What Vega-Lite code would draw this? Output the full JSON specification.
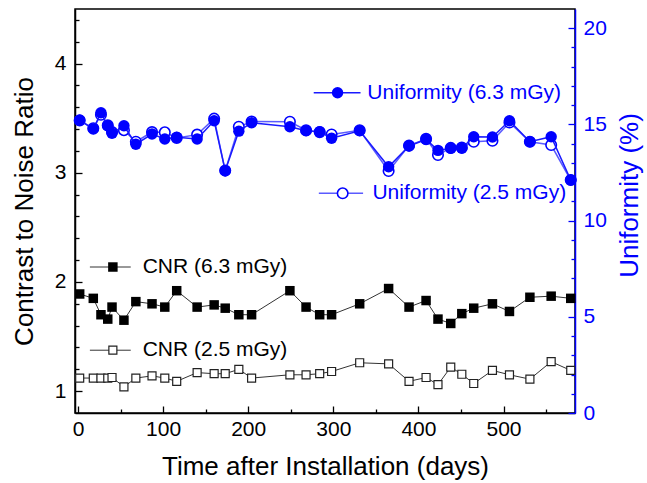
{
  "$schema": "https://vega.github.io/schema/vega-lite/v6.json",
  "width": 500,
  "height": 404,
  "autosize": {"type": "none"},
  "padding": {"left": 75, "top": 9, "right": 72, "bottom": 70},
  "background": "white",
  "config": {
    "font": "Liberation Sans",
    "view": {"stroke": "#000", "strokeWidth": 1.5},
    "axis": {
      "grid": false,
      "labelFont": "Liberation Sans",
      "titleFont": "Liberation Sans",
      "labelFontSize": 21,
      "titleFontSize": 26,
      "titleFontWeight": "normal",
      "labelColor": "#000",
      "titleColor": "#000",
      "domainColor": "#000",
      "tickColor": "#000",
      "domainWidth": 1.5,
      "tickWidth": 1.3,
      "labelOverlap": false
    }
  },
  "datasets": {
    "meas": [
      {"day": 2, "cnr_63": 1.89, "cnr_25": 1.12, "unif_63": 15.23, "unif_25": 15.2},
      {"day": 18, "cnr_63": 1.85, "cnr_25": 1.12, "unif_63": 14.76, "unif_25": 14.8},
      {"day": 27, "cnr_63": 1.70, "cnr_25": 1.12, "unif_63": 15.61, "unif_25": 15.5},
      {"day": 35, "cnr_63": 1.66, "cnr_25": 1.12, "unif_63": 14.93, "unif_25": 14.95},
      {"day": 40, "cnr_63": 1.77, "cnr_25": 1.125, "unif_63": 14.54, "unif_25": 14.6},
      {"day": 54, "cnr_63": 1.65, "cnr_25": 1.04, "unif_63": 14.93, "unif_25": 14.7},
      {"day": 68, "cnr_63": 1.82, "cnr_25": 1.12, "unif_63": 13.97, "unif_25": 14.1},
      {"day": 87, "cnr_63": 1.80, "cnr_25": 1.14, "unif_63": 14.50, "unif_25": 14.6},
      {"day": 102, "cnr_63": 1.77, "cnr_25": 1.12, "unif_63": 14.24, "unif_25": 14.59},
      {"day": 116, "cnr_63": 1.92, "cnr_25": 1.09, "unif_63": 14.33, "unif_25": 14.3},
      {"day": 140, "cnr_63": 1.77, "cnr_25": 1.17, "unif_63": 14.24, "unif_25": 14.47},
      {"day": 160, "cnr_63": 1.79, "cnr_25": 1.16, "unif_63": 15.19, "unif_25": 15.3},
      {"day": 173, "cnr_63": 1.76, "cnr_25": 1.16, "unif_63": 12.59, "unif_25": 12.6},
      {"day": 189, "cnr_63": 1.70, "cnr_25": 1.20, "unif_63": 14.65, "unif_25": 14.88},
      {"day": 204, "cnr_63": 1.70, "cnr_25": 1.12, "unif_63": 15.09, "unif_25": 15.15},
      {"day": 249, "cnr_63": 1.92, "cnr_25": 1.15, "unif_63": 14.88, "unif_25": 15.14},
      {"day": 268, "cnr_63": 1.77, "cnr_25": 1.15, "unif_63": 14.67, "unif_25": 14.7},
      {"day": 284, "cnr_63": 1.70, "cnr_25": 1.16, "unif_63": 14.62, "unif_25": 14.6},
      {"day": 298, "cnr_63": 1.70, "cnr_25": 1.18, "unif_63": 14.28, "unif_25": 14.48},
      {"day": 331, "cnr_63": 1.80, "cnr_25": 1.26, "unif_63": 14.67, "unif_25": 14.7},
      {"day": 365, "cnr_63": 1.94, "cnr_25": 1.25, "unif_63": 12.80, "unif_25": 12.58},
      {"day": 389, "cnr_63": 1.77, "cnr_25": 1.09, "unif_63": 13.88, "unif_25": 13.9},
      {"day": 409, "cnr_63": 1.83, "cnr_25": 1.125, "unif_63": 14.22, "unif_25": 14.25},
      {"day": 423, "cnr_63": 1.66, "cnr_25": 1.06, "unif_63": 13.65, "unif_25": 13.41},
      {"day": 438, "cnr_63": 1.62, "cnr_25": 1.22, "unif_63": 13.76, "unif_25": 13.78},
      {"day": 451, "cnr_63": 1.71, "cnr_25": 1.155, "unif_63": 13.76, "unif_25": 13.8},
      {"day": 465, "cnr_63": 1.76, "cnr_25": 1.07, "unif_63": 14.36, "unif_25": 14.10},
      {"day": 487, "cnr_63": 1.80, "cnr_25": 1.19, "unif_63": 14.35, "unif_25": 14.15},
      {"day": 507, "cnr_63": 1.73, "cnr_25": 1.15, "unif_63": 15.19, "unif_25": 15.1},
      {"day": 531, "cnr_63": 1.86, "cnr_25": 1.11, "unif_63": 14.10, "unif_25": 14.10},
      {"day": 556, "cnr_63": 1.87, "cnr_25": 1.27, "unif_63": 14.36, "unif_25": 13.93},
      {"day": 579, "cnr_63": 1.85, "cnr_25": 1.19, "unif_63": 12.11, "unif_25": 12.11}
    ]
  },
  "layer": [
    {
      "layer": [
        {
          "data": {"name": "meas"},
          "mark": {"type": "line", "color": "#333", "strokeWidth": 1},
          "encoding": {
            "x": {
              "field": "day", "type": "quantitative",
              "scale": {"domain": [-3.5, 584], "nice": false, "zero": false},
              "axis": {
                "title": "Time after Installation (days)",
                "values": [0, 50, 100, 150, 200, 250, 300, 350, 400, 450, 500, 550],
                "tickCount": 100,
                "labelExpr": "datum.value % 100 === 0 ? format(datum.value, 'd') : ''",
                "tickSize": {"condition": {"test": "datum.value % 100 === 0", "value": -7}, "value": -4},
                "labelPadding": 12,
                "titlePadding": 11
              }
            },
            "y": {
              "field": "cnr_25", "type": "quantitative",
              "scale": {"domain": [0.8, 4.5], "nice": false, "zero": false},
              "axis": {
                "orient": "left",
                "title": "Contrast to Noise Ratio",
                "values": [1, 1.2, 1.4, 1.6, 1.8, 2, 2.2, 2.4, 2.6, 2.8, 3, 3.2, 3.4, 3.6, 3.8, 4, 4.2, 4.4],
                "tickCount": 100,
                "labelExpr": "abs(datum.value - round(datum.value)) < 0.01 ? format(datum.value, 'd') : ''",
                "tickSize": {"condition": {"test": "abs(datum.value - round(datum.value)) < 0.01", "value": -7}, "value": -4},
                "labelPadding": 16,
                "titlePadding": 17
              }
            }
          }
        },
        {
          "data": {"name": "meas"},
          "mark": {"type": "point", "shape": "square", "size": 64, "fill": "white", "stroke": "#222", "strokeWidth": 1.2, "opacity": 1},
          "encoding": {
            "x": {"field": "day", "type": "quantitative"},
            "y": {"field": "cnr_25", "type": "quantitative"}
          }
        },
        {
          "data": {"name": "meas"},
          "mark": {"type": "line", "color": "#333", "strokeWidth": 1},
          "encoding": {
            "x": {"field": "day", "type": "quantitative"},
            "y": {"field": "cnr_63", "type": "quantitative"}
          }
        },
        {
          "data": {"name": "meas"},
          "mark": {"type": "point", "shape": "square", "size": 90, "filled": true, "color": "#000", "opacity": 1},
          "encoding": {
            "x": {"field": "day", "type": "quantitative"},
            "y": {"field": "cnr_63", "type": "quantitative"}
          }
        },
        {
          "data": {"values": [{"label": "CNR (6.3 mGy)"}]},
          "layer": [
            {"mark": {"type": "rule", "color": "#333", "strokeWidth": 1}, "encoding": {"x": {"datum": 14}, "x2": {"datum": 62}, "y": {"datum": 2.137}}},
            {"mark": {"type": "point", "shape": "square", "size": 90, "filled": true, "color": "#000", "opacity": 1}, "encoding": {"x": {"datum": 41}, "y": {"datum": 2.137}}},
            {"mark": {"type": "text", "align": "left", "baseline": "middle", "fontSize": 21, "color": "#000", "font": "Liberation Sans"}, "encoding": {"x": {"datum": 76}, "y": {"datum": 2.137}, "text": {"field": "label"}}}
          ]
        },
        {
          "data": {"values": [{"label": "CNR (2.5 mGy)"}]},
          "layer": [
            {"mark": {"type": "rule", "color": "#333", "strokeWidth": 1}, "encoding": {"x": {"datum": 14}, "x2": {"datum": 62}, "y": {"datum": 1.375}}},
            {"mark": {"type": "point", "shape": "square", "size": 64, "fill": "white", "stroke": "#222", "strokeWidth": 1.2, "opacity": 1}, "encoding": {"x": {"datum": 41}, "y": {"datum": 1.375}}},
            {"mark": {"type": "text", "align": "left", "baseline": "middle", "fontSize": 21, "color": "#000", "font": "Liberation Sans"}, "encoding": {"x": {"datum": 76}, "y": {"datum": 1.375}, "text": {"field": "label"}}}
          ]
        }
      ]
    },
    {
      "layer": [
        {
          "data": {"name": "meas"},
          "mark": {"type": "line", "color": "#5a5aff", "strokeWidth": 1.5},
          "encoding": {
            "x": {"field": "day", "type": "quantitative"},
            "y": {
              "field": "unif_25", "type": "quantitative",
              "scale": {"domain": [0, 21], "nice": false, "zero": false},
              "axis": {
                "orient": "right",
                "title": "Uniformity (%)",
                "titleAngle": 270,
                "titleFontSize": 26,
                "titleY": 186,
                "values": [0, 1, 2, 3, 4, 5, 6, 7, 8, 9, 10, 11, 12, 13, 14, 15, 16, 17, 18, 19, 20],
                "tickCount": 100,
                "labelExpr": "datum.value % 5 === 0 ? format(datum.value, 'd') : ''",
                "tickSize": {"condition": {"test": "datum.value % 5 === 0", "value": -7}, "value": -4},
                "labelPadding": 15,
                "titlePadding": 36,
                "domainColor": "#0000ff",
                "tickColor": "#0000ff",
                "labelColor": "#0000ff",
                "titleColor": "#0000ff"
              }
            }
          }
        },
        {
          "data": {"name": "meas"},
          "mark": {"type": "point", "shape": "circle", "size": 110, "fill": "white", "stroke": "#0000ff", "strokeWidth": 1.6, "opacity": 1},
          "encoding": {
            "x": {"field": "day", "type": "quantitative"},
            "y": {"field": "unif_25", "type": "quantitative"}
          }
        },
        {
          "data": {"name": "meas"},
          "mark": {"type": "line", "color": "#1a1aff", "strokeWidth": 1.5},
          "encoding": {
            "x": {"field": "day", "type": "quantitative"},
            "y": {"field": "unif_63", "type": "quantitative"}
          }
        },
        {
          "data": {"name": "meas"},
          "mark": {"type": "point", "shape": "circle", "size": 130, "filled": true, "color": "#0000ff", "opacity": 1},
          "encoding": {
            "x": {"field": "day", "type": "quantitative"},
            "y": {"field": "unif_63", "type": "quantitative"}
          }
        },
        {
          "data": {"values": [{"label": "Uniformity (6.3 mGy)"}]},
          "layer": [
            {"mark": {"type": "rule", "color": "#1a1aff", "strokeWidth": 1.5}, "encoding": {"x": {"datum": 277}, "x2": {"datum": 332}, "y": {"datum": 16.65}}},
            {"mark": {"type": "point", "shape": "circle", "size": 130, "filled": true, "color": "#0000ff", "opacity": 1}, "encoding": {"x": {"datum": 305}, "y": {"datum": 16.65}}},
            {"mark": {"type": "text", "align": "left", "baseline": "middle", "fontSize": 21, "color": "#0000ff", "font": "Liberation Sans"}, "encoding": {"x": {"datum": 340}, "y": {"datum": 16.65}, "text": {"field": "label"}}}
          ]
        },
        {
          "data": {"values": [{"label": "Uniformity (2.5 mGy)"}]},
          "layer": [
            {"mark": {"type": "rule", "color": "#5a5aff", "strokeWidth": 1.5}, "encoding": {"x": {"datum": 283}, "x2": {"datum": 335}, "y": {"datum": 11.42}}},
            {"mark": {"type": "point", "shape": "circle", "size": 110, "fill": "white", "stroke": "#0000ff", "strokeWidth": 1.6, "opacity": 1}, "encoding": {"x": {"datum": 311}, "y": {"datum": 11.42}}},
            {"mark": {"type": "text", "align": "left", "baseline": "middle", "fontSize": 21, "color": "#0000ff", "font": "Liberation Sans"}, "encoding": {"x": {"datum": 346}, "y": {"datum": 11.42}, "text": {"field": "label"}}}
          ]
        }
      ]
    }
  ],
  "resolve": {"scale": {"y": "independent"}}
}
